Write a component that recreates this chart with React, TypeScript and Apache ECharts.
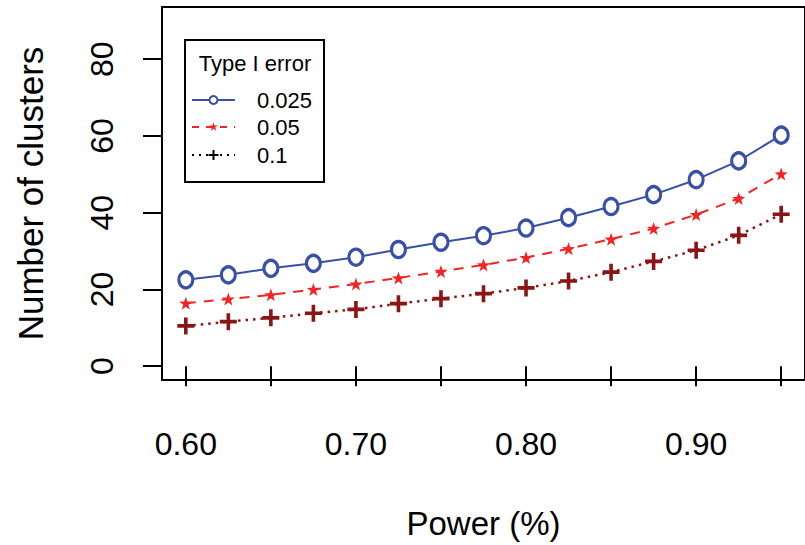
import React, { useEffect, useRef } from "react";
import * as echarts from "echarts";

const powers = [0.6, 0.625, 0.65, 0.675, 0.7, 0.725, 0.75, 0.775, 0.8, 0.825, 0.85, 0.875, 0.9, 0.925, 0.95];
const err025 = [22.5, 23.8, 25.5, 26.8, 28.4, 30.4, 32.3, 34.0, 36.0, 38.7, 41.6, 44.7, 48.6, 53.5, 60.2];
const err05 = [16.4, 17.5, 18.6, 20.0, 21.4, 23.0, 24.7, 26.4, 28.3, 30.6, 33.1, 35.9, 39.5, 43.7, 50.1];
const err1 = [10.5, 11.6, 12.6, 13.8, 14.8, 16.3, 17.6, 18.9, 20.4, 22.2, 24.5, 27.3, 30.2, 34.1, 39.6];
const xTicks = [0.6, 0.65, 0.7, 0.75, 0.8, 0.85, 0.9, 0.95];
const xLabels = [0.6, 0.7, 0.8, 0.9];
const yTicks = [0, 20, 40, 60, 80];
const legendTitle = "Type I error";
const legendNames = ["0.025", "0.05", "0.1"];

const BLUE = "#3850A8";
const RED = "#F42424";
const DARKRED = "#8B1515";
const FONT = "'Liberation Sans', Arial, sans-serif";

const STAR = "path://M0,-10 L2.35,-3.24 L9.51,-3.09 L3.8,1.24 L5.88,8.09 L0,4 L-5.88,8.09 L-3.8,1.24 L-9.51,-3.09 L-2.35,-3.24 Z";
const PLUS = "path://M-1.7,-8 H1.7 V-1.7 H8 V1.7 H1.7 V8 H-1.7 V1.7 H-8 V-1.7 H-1.7 Z";

export default function App() {
  const ref = useRef<HTMLDivElement>(null);
  useEffect(() => {
    if (!ref.current) return;
    const chart = echarts.init(ref.current, null, { renderer: "svg" });
    const pair = (v: number[]) => powers.map((p, i) => [p, v[i]]);
    const lx1 = 192, lx2 = 235, lxm = 213.5, ltx = 257;
    const ly = [100, 127, 155];
    chart.setOption({
      animation: false,
      backgroundColor: "#ffffff",
      grid: {
        left: 162, top: 7, width: 652, height: 376,
        show: true, borderColor: "#000", borderWidth: 2, backgroundColor: "transparent",
      },
      xAxis: {
        type: "value", min: 0.586, max: 0.964,
        name: "Power (%)", nameLocation: "middle", nameGap: 127,
        nameTextStyle: { fontFamily: FONT, fontSize: 33, color: "#000" },
        axisLine: { show: false },
        splitLine: { show: false },
        axisTick: { show: true, length: 20, lineStyle: { color: "#000", width: 2 }, customValues: xTicks },
        axisLabel: {
          fontFamily: FONT, fontSize: 32, color: "#000", margin: 48,
          customValues: xLabels, formatter: (v: number) => v.toFixed(2),
        },
      },
      yAxis: {
        type: "value", min: -3.6, max: 93.6,
        name: "Number of clusters", nameLocation: "middle", nameGap: 114, nameRotate: 90,
        nameTextStyle: { fontFamily: FONT, fontSize: 35, color: "#000" },
        axisLine: { show: false },
        splitLine: { show: false },
        axisTick: { show: true, length: 19, lineStyle: { color: "#000", width: 2 }, customValues: yTicks },
        axisLabel: {
          fontFamily: FONT, fontSize: 32, color: "#000", margin: 44, rotate: 90,
          customValues: yTicks, formatter: (v: number) => String(v),
        },
      },
      series: [
        {
          name: "0.025", type: "line", data: pair(err025),
          symbol: "circle", symbolSize: [14, 16], showSymbol: true,
          lineStyle: { color: BLUE, width: 2, type: "solid" },
          itemStyle: { color: "#ffffff", borderColor: BLUE, borderWidth: 3.2 },
        },
        {
          name: "0.05", type: "line", data: pair(err05),
          symbol: STAR, symbolSize: 13, showSymbol: true,
          lineStyle: { color: RED, width: 2, type: [10, 8] },
          itemStyle: { color: RED, borderWidth: 0 },
        },
        {
          name: "0.1", type: "line", data: pair(err1),
          symbol: PLUS, symbolSize: 17, showSymbol: true,
          lineStyle: { color: DARKRED, width: 2.5, type: [2.5, 5] },
          itemStyle: { color: DARKRED, borderWidth: 0 },
        },
      ],
      graphic: [
        { type: "rect", shape: { x: 185, y: 40, width: 139, height: 142 }, style: { fill: "#fff", stroke: "#000", lineWidth: 2 }, z: 100 },
        { type: "text", x: 255, y: 63, style: { text: legendTitle, font: `22px ${FONT}`, fill: "#000", align: "center", verticalAlign: "middle" }, z: 101 },
        { type: "line", shape: { x1: lx1, y1: ly[0], x2: lx2, y2: ly[0] }, style: { stroke: BLUE, lineWidth: 2 }, z: 101 },
        { type: "circle", shape: { cx: lxm, cy: ly[0], r: 4 }, style: { fill: "#fff", stroke: BLUE, lineWidth: 2 }, z: 102 },
        { type: "line", shape: { x1: lx1, y1: ly[1], x2: lx2, y2: ly[1] }, style: { stroke: RED, lineWidth: 2, lineDash: [7, 7] }, z: 101 },
        { type: "polygon", shape: { points: [[0,-10],[2.35,-3.24],[9.51,-3.09],[3.8,1.24],[5.88,8.09],[0,4],[-5.88,8.09],[-3.8,1.24],[-9.51,-3.09],[-2.35,-3.24]] }, x: lxm, y: ly[1], scaleX: 0.45, scaleY: 0.45, style: { fill: RED }, z: 102 },
        { type: "line", shape: { x1: lx1, y1: ly[2], x2: lx2, y2: ly[2] }, style: { stroke: "#000", lineWidth: 2, lineDash: [2, 5] }, z: 101 },
        { type: "line", shape: { x1: lxm - 5, y1: ly[2], x2: lxm + 5, y2: ly[2] }, style: { stroke: "#000", lineWidth: 2 }, z: 102 },
        { type: "line", shape: { x1: lxm, y1: ly[2] - 5, x2: lxm, y2: ly[2] + 5 }, style: { stroke: "#000", lineWidth: 2 }, z: 102 },
        ...legendNames.map((n, i) => ({
          type: "text", x: ltx, y: ly[i], z: 101,
          style: { text: n, font: `22px ${FONT}`, fill: "#000", align: "left", verticalAlign: "middle" },
        })),
      ],
    });
    return () => chart.dispose();
  }, []);
  return <div ref={ref} style={{ position: "fixed", left: 0, top: 0, width: 805, height: 545 }} />;
}
